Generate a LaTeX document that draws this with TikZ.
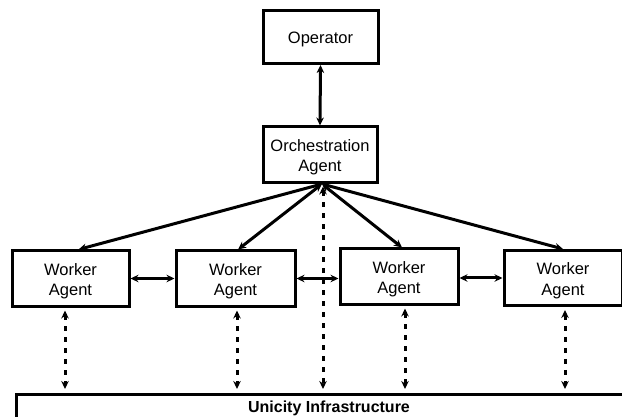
\documentclass[tikz,border=0pt]{standalone}
\usepackage{fontspec}
\setmainfont{Liberation Sans}
\usetikzlibrary{arrows.meta}
\newcommand{\boxtext}[1]{\raisebox{-3pt}[\height][\depth]{\begin{tabular}{@{}c@{}}#1\end{tabular}}}
\begin{document}
\begin{tikzpicture}[x=1pt,y=1pt,
  box/.style={draw=black,line width=3pt,fill=white,inner sep=0pt,align=center,
    font=\fontsize{16.5}{20}\selectfont},
  link/.style={line width=3pt,{Stealth[length=8pt,width=7.5pt]}-{Stealth[length=8pt,width=7.5pt]}},
  dlink/.style={link,dash pattern=on 5pt off 6pt}]
\useasboundingbox (0,0) rectangle (622,-417);
\fill[white] (0,0) rectangle (622,-417);
\node[box,minimum width=115pt,minimum height=53pt] (op) at (320.5,-37) {\boxtext{Operator}};
\node[box,minimum width=114pt,minimum height=56pt] (orch) at (320,-155) {\boxtext{Orchestration\\Agent}};
\node[box,minimum width=117pt,minimum height=55pt] (w1) at (70.5,-278.5) {\boxtext{Worker\\Agent}};
\node[box,minimum width=119pt,minimum height=55pt] (w2) at (235.5,-278.5) {\boxtext{Worker\\Agent}};
\node[box,minimum width=118pt,minimum height=55pt] (w3) at (399,-276.5) {\boxtext{Worker\\Agent}};
\node[box,minimum width=118pt,minimum height=55pt] (w4) at (563,-278) {\boxtext{Worker\\Agent}};
\node[box,minimum width=625pt,minimum height=50pt,anchor=north west,font=\bfseries\fontsize{16}{18}\selectfont,text depth=26pt] (infra) at (15,-393) {Unicity Infrastructure};
\coordinate (hub) at (322,-184);
% operator to orchestration
\draw[link] (op.south) -- (orch.north);
% orchestration to workers
\draw[link] (hub) -- ([xshift=8pt]w1.north);
\draw[link] (hub) -- ([xshift=2.5pt]w2.north);
\draw[link] (hub) -- ([xshift=3pt]w3.north);
\draw[link] (hub) -- (w4.north);
% worker to worker
\draw[link] (w1.east) -- (w1.east -| w2.west);
\draw[link] (w2.east) -- (w2.east -| w3.west);
\draw[link] (w3.east |- w4.west) -- (w4.west);
% dashed to infrastructure
\coordinate (d1) at ([xshift=-5.5pt]w1.south);
\coordinate (d2) at ([xshift=1.5pt]w2.south);
\coordinate (d3) at ([xshift=6pt]w3.south);
\coordinate (d4) at ([xshift=2pt]w4.south);
\coordinate (d0) at ([xshift=3pt]orch.south);
\draw[dlink,shorten <=3pt,shorten >=4pt] (d1) -- (d1 |- infra.north);
\draw[dlink,shorten <=3pt,shorten >=4pt] (d2) -- (d2 |- infra.north);
\draw[dlink,shorten <=3pt,shorten >=4pt] (d3) -- (d3 |- infra.north);
\draw[dlink,shorten <=3pt,shorten >=4pt] (d4) -- (d4 |- infra.north);
\draw[dlink,shorten <=2pt,shorten >=4pt] (d0) -- (d0 |- infra.north);
\end{tikzpicture}
\end{document}
